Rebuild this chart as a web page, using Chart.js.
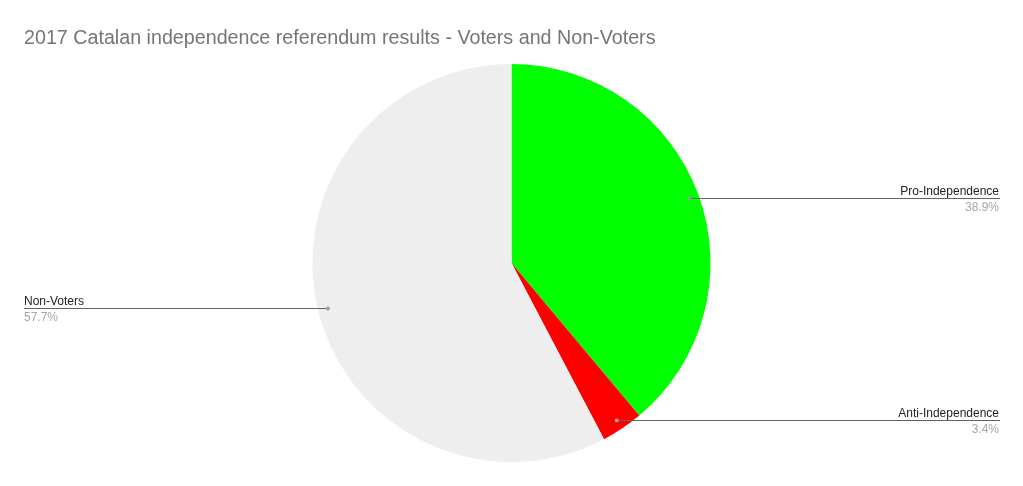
<!DOCTYPE html>
<html lang="en">
<head>
    <meta charset="UTF-8">
    <title>Referendum Pie</title>
    <script src="https://cdn.jsdelivr.net/npm/chart.js"></script>
    <style>
      html, body { margin: 0; padding: 0; background: #fff; }
      #wrap { width: 1023px; height: 486px; position: relative; }
    </style>
</head>
<body>
    <div id="wrap">
        <canvas id="referendumChart" width="1023" height="486"></canvas>
    </div>

    <script>
        const chartTitle = '2017 Catalan independence referendum results - Voters and Non-Voters';
        const categories = ['Pro-Independence', 'Anti-Independence', 'Non-Voters'];
        const shares = [38.9, 3.4, 57.7];
        const sliceColors = ['#00ff00', '#ff0000', '#eeeeee'];

        // title + leader-line labels, drawn after the pie
        const calloutPlugin = {
            id: 'callouts',
            afterDraw(chart) {
                const c = chart.ctx;
                c.save();
                c.font = '19.7px "Liberation Sans", Arial, sans-serif';
                c.fillStyle = '#757575';
                c.textAlign = 'left';
                c.textBaseline = 'alphabetic';
                c.fillText(chartTitle, 24, 44);

                const arcs = chart.getDatasetMeta(0).data;
                arcs.forEach((arc, i) => {
                    const p = arc.getProps(['x', 'y', 'startAngle', 'endAngle', 'outerRadius'], true);
                    const mid = (p.startAngle + p.endAngle) / 2;
                    const r = p.outerRadius * 0.95;
                    const dx = p.x + Math.cos(mid) * r;
                    const dy = Math.round(p.y + Math.sin(mid) * r) + 0.5;
                    const right = Math.cos(mid) >= 0;

                    c.strokeStyle = '#636363';
                    c.lineWidth = 1;
                    c.beginPath();
                    if (right) {
                        c.moveTo(dx, dy);
                        c.lineTo(1000, dy);
                    } else {
                        c.moveTo(24, dy);
                        c.lineTo(dx, dy);
                    }
                    c.stroke();

                    c.fillStyle = '#9e9e9e';
                    c.beginPath();
                    c.arc(dx, dy, 2, 0, Math.PI * 2);
                    c.fill();

                    c.font = '12px "Liberation Sans", Arial, sans-serif';
                    c.textAlign = right ? 'right' : 'left';
                    const tx = right ? 999 : 24;
                    c.fillStyle = '#222222';
                    c.fillText(categories[i], tx, dy - 3.5);
                    c.fillStyle = '#a6a6a6';
                    c.fillText(shares[i].toFixed(1) + '%', tx, dy + 12.5);
                });
                c.restore();
            }
        };

        const ctx = document.getElementById('referendumChart').getContext('2d');

        const referendumChart = new Chart(ctx, {
            type: 'pie',
            data: {
                labels: categories,
                datasets: [{
                    data: shares,
                    backgroundColor: sliceColors,
                    borderWidth: 0
                }]
            },
            options: {
                responsive: false,
                animation: false,
                layout: {
                    padding: { top: 64, bottom: 24, left: 0, right: 0 }
                },
                plugins: {
                    legend: { display: false },
                    tooltip: { enabled: false },
                    title: { display: false }
                }
            },
            plugins: [calloutPlugin]
        });
    </script>
</body>
</html>
